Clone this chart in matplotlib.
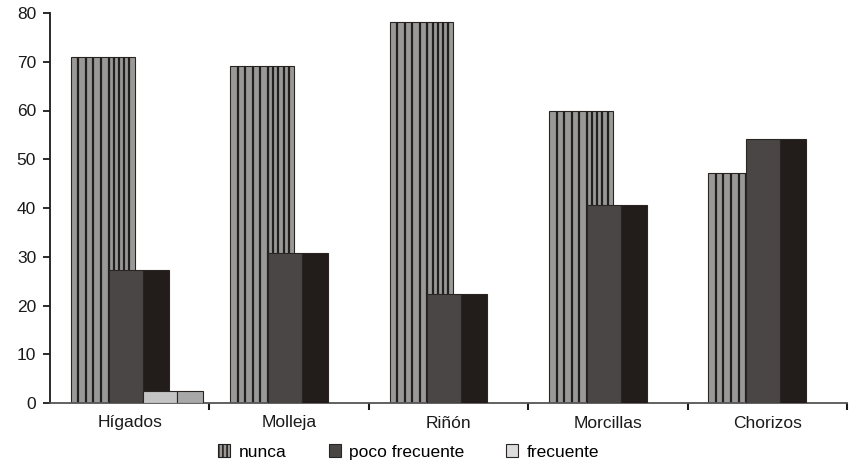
import matplotlib
matplotlib.use("Agg")
import matplotlib.pyplot as plt
from matplotlib.patches import Patch
import numpy as np

plt.rcParams['font.family'] = ['Liberation Sans', 'DejaVu Sans']
plt.rcParams['hatch.linewidth'] = 1.2

categories = ["Hígados", "Molleja", "Riñón", "Morcillas", "Chorizos"]
series_names = ["nunca", "poco frecuente", "frecuente"]
nunca = [71.0, 69.1, 78.1, 59.9, 47.1]
poco_frecuente = [27.3, 30.7, 22.4, 40.6, 54.1]
frecuente = [2.5, 0.0, 0.0, 0.0, 0.0]
y_ticks = [0, 10, 20, 30, 40, 50, 60, 70, 80]

# bar geometry inside each category slot (slot width = 1)
OFFSET = 0.13
FRONT_W = [0.238, 0.213, 0.213]
DEPTH = 0.163

front_cols = ["#999999", "#4b4646", "#c4c4c4"]
side_cols = ["#999999", "#221d1b", "#a8a8a8"]
stripe_col = "#231f1c"
edge_col = "#2a2523"

fig = plt.figure(figsize=(8.67, 4.63), dpi=100)
ax = fig.add_axes([50 / 867, 60 / 463, 797 / 867, 390 / 463])

x = np.arange(len(categories))
all_series = [nunca, poco_frecuente, frecuente]

left = x + OFFSET
for s, vals in enumerate(all_series):
    vals = np.asarray(vals, dtype=float)
    z = 2 + s
    fw = FRONT_W[s]
    mask = vals > 0
    # front face
    ax.bar(left[mask], vals[mask], width=fw, align='edge', color=front_cols[s],
           edgecolor=edge_col, linewidth=0.8, zorder=z)
    # side face
    ax.bar(left[mask] + fw, vals[mask], width=DEPTH, align='edge', color=side_cols[s],
           edgecolor=edge_col, linewidth=0.8, zorder=z)
    if s == 0:
        # vertical stripes on the front and side faces
        for xl, v in zip(left[mask], vals[mask]):
            xs_front = xl + np.linspace(0, fw, 6)[1:-1]
            xs_side = xl + fw + np.linspace(0, DEPTH, 6)[:-1]
            ax.vlines(np.concatenate([xs_front, xs_side]), 0, v, colors=stripe_col,
                      linewidth=1.6, zorder=z + 0.1)
    left = left + fw

ax.set_xlim(0, len(categories))
ax.set_ylim(0, 80)
ax.set_yticks(y_ticks)
ax.set_yticklabels([str(t) for t in y_ticks])
ax.set_xticks(x + 0.5)
ax.set_xticklabels(categories)
ax.set_xticks(np.arange(1, len(categories) + 1), minor=True)
ax.tick_params(axis='x', which='major', length=0, pad=9, labelsize=12.5, colors='#1a1a1a')
ax.tick_params(axis='x', which='minor', length=5, width=1.5, color='#1a1a1a', direction='out')
ax.tick_params(axis='y', length=5, width=1.3, pad=5, labelsize=12.5, colors='#1a1a1a',
               direction='out')
for sp in ('top', 'right'):
    ax.spines[sp].set_visible(False)
ax.spines['left'].set_color('#1a1a1a')
ax.spines['left'].set_linewidth(1.3)
ax.spines['bottom'].set_color('#555555')
ax.spines['bottom'].set_linewidth(1.3)

handles = [
    Patch(facecolor=front_cols[0], edgecolor=stripe_col, hatch='||||', linewidth=0.8),
    Patch(facecolor=front_cols[1], edgecolor=edge_col, linewidth=0.8),
    Patch(facecolor="#dcdcdc", edgecolor=edge_col, linewidth=0.8),
]
fig.legend(handles, series_names, loc='center', bbox_to_anchor=(409 / 867, 1 - 452 / 463),
           ncol=3, frameon=False, fontsize=12.5, handlelength=0.7, handleheight=0.7,
           handletextpad=0.5, columnspacing=2.4, borderaxespad=0)

fig.savefig("out.png", dpi=100)
